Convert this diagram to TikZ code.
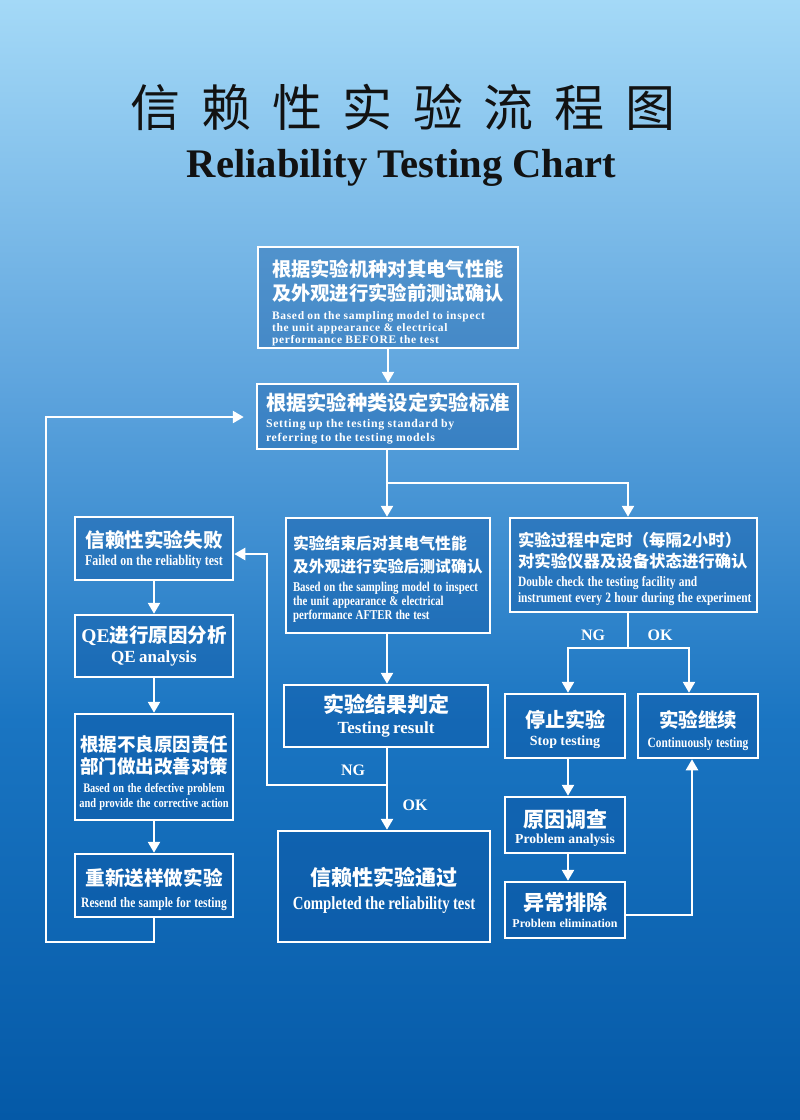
\documentclass[tikz,border=0pt]{standalone}
\usepackage{fontspec}
\usetikzlibrary{arrows.meta}
\setmainfont{Liberation Serif}
\newfontfamily\cjkbase{Noto Sans CJK SC}
\newcommand\cjk{\cjkbase\bfseries}
\newfontfamily\enr{Liberation Serif}
\newfontfamily\enw{Liberation Serif}[LetterSpace=6]
\newfontfamily\enc{Liberation Serif}[FakeStretch=0.8]
\newcommand\fs[2]{\fontsize{#1}{#2}\selectfont}
\newcommand\myline[1]{\mbox{#1}\par}
\definecolor{c0}{HTML}{A4D9F7}
\definecolor{c1}{HTML}{5FA5DE}
\definecolor{c2}{HTML}{1A75C2}
\definecolor{c3}{HTML}{0459A7}
\definecolor{boxfill}{HTML}{0A4F9C}
\definecolor{titlecol}{HTML}{121212}
\begin{document}
\begin{tikzpicture}[x=1pt,y=-1pt,
  box/.style={draw=white, line width=2.5pt, fill=boxfill, fill opacity=0.35, inner sep=0pt},
  txt/.style={text=white, inner sep=0pt, align=center},
  ltxt/.style={txt, align=left},
  conn/.style={draw=white, line width=2.5pt},
  arr/.style={conn, -{Triangle[width=12pt,length=11pt]}},
  lbl/.style={text=white, font=\enr\bfseries\fs{16}{16}, inner sep=0pt}]
\path[use as bounding box] (0,0) rectangle (800,1120);
\shade[top color=c0,bottom color=c1] (0,0) rectangle (800,381);
\shade[top color=c1,bottom color=c2] (0,380) rectangle (800,721);
\shade[top color=c2,bottom color=c3] (0,720) rectangle (800,1120);

% title
\node[text=titlecol, font=\cjkbase\fs{50}{50}, inner sep=0pt] (tzh) at (403,107)
  {信\hspace{20.6pt}赖\hspace{20.6pt}性\hspace{20.6pt}实\hspace{20.6pt}验\hspace{20.6pt}流\hspace{20.6pt}程\hspace{20.6pt}图};
\node[text=titlecol, font=\enr\bfseries\fs{40.6}{42}, inner sep=0pt, anchor=base] (ten) at (401.5,177)
  {Reliability Testing Chart};

% boxes
\node[box, minimum width=260pt, minimum height=101pt] (b1) at (388,297.5) {};
\node[box, minimum width=261pt, minimum height=65pt] (b2) at (387.5,416.5) {};
\node[box, minimum width=204pt, minimum height=115pt] (m1) at (388,575.5) {};
\node[box, minimum width=204pt, minimum height=62pt] (m2) at (386,716) {};
\node[box, minimum width=212pt, minimum height=111pt] (m3) at (384,886.5) {};
\node[box, minimum width=158pt, minimum height=63pt] (l1) at (154,548.5) {};
\node[box, minimum width=158pt, minimum height=62pt] (l2) at (154,646) {};
\node[box, minimum width=158pt, minimum height=106pt] (l3) at (154,767) {};
\node[box, minimum width=158pt, minimum height=63pt] (l4) at (154,885.5) {};
\node[box, minimum width=247pt, minimum height=94pt] (r1) at (633.5,565) {};
\node[box, minimum width=120pt, minimum height=64pt] (r2) at (565,726) {};
\node[box, minimum width=120pt, minimum height=64pt] (r3) at (698,726) {};
\node[box, minimum width=120pt, minimum height=56pt] (r4) at (565,825) {};
\node[box, minimum width=120pt, minimum height=56pt] (r5) at (565,910) {};

% box texts
\node[ltxt, text width=232pt] (b1t) at ([yshift=-5pt]b1.center)
  {{\cjk\fs{19.3}{24}\myline{根据实验机种对其电气性能}\myline{及外观进行实验前测试确认}}\vspace{8pt}%
   {\enw\bfseries\fs{11.5}{11.6}\myline{Based on the sampling model to inspect}\myline{the unit appearance \& electrical}\myline{performance BEFORE the test}}};
\node[ltxt, text width=243pt] (b2t) at ([yshift=-2pt]b2.center)
  {{\cjk\fs{20.3}{24}\myline{根据实验种类设定实验标准}}\vspace{3.5pt}%
   {\enw\bfseries\fs{11.8}{14}\myline{Setting up the testing standard by}\myline{referring to the testing models}}};
\node[ltxt, text width=190pt] (m1t) at ([yshift=-3.5pt]m1.center)
  {{\cjk\fs{15.8}{23}\myline{实验结束后对其电气性能}\myline{及外观进行实验后测试确认}}\vspace{5pt}%
   {\enc\bfseries\fs{13.5}{14}\myline{Based on the sampling model to inspect}\myline{the unit appearance \& electrical}\myline{performance AFTER the test}}};
\node[txt, text width=200pt] (m2t) at (m2.center)
  {{\cjk\fs{21}{24}\myline{实验结果判定}}\vspace{2pt}%
   {\enr\bfseries\fs{17}{19}\myline{Testing result}}};
\node[txt, text width=208pt] (m3t) at ([yshift=-3.5pt]m3.center)
  {{\cjk\fs{21}{24}\myline{信赖性实验通过}}\vspace{5pt}%
   {\enc\bfseries\fs{18.5}{19}\myline{Completed the reliability test}}};
\node[txt, text width=154pt] (l1t) at ([yshift=-1pt]l1.center)
  {{\cjk\fs{19.6}{22}\myline{信赖性实验失败}}\vspace{3.5pt}%
   {\enc\bfseries\fs{14.9}{15}\myline{Failed on the reliablity test}}};
\node[txt, text width=154pt] (l2t) at (l2.center)
  {{\cjk\fs{19.5}{22}\myline{{\enr\bfseries QE}进行原因分析}}\vspace{2pt}%
   {\enr\bfseries\fs{17}{17.5}\myline{QE analysis}}};
\node[txt, text width=154pt] (l3t) at ([yshift=-6pt]l3.center)
  {{\cjk\fs{18.5}{22}\myline{根据不良原因责任}\myline{部门做出改善对策}}\vspace{3.5pt}%
   {\enc\bfseries\fs{13}{15}\myline{Based on the defective problem}\myline{and provide the corrective action}}};
\node[txt, text width=154pt] (l4t) at ([yshift=-4pt]l4.center)
  {{\cjk\fs{19.6}{22}\myline{重新送样做实验}}\vspace{7.5pt}%
   {\enc\bfseries\fs{14.3}{15}\myline{Resend the sample for testing}}};
\node[ltxt, text width=231pt] (r1t) at ([yshift=-4pt]r1.center)
  {{\cjk\fs{16.4}{21}\myline{实验过程中定时（每隔2小时）}\myline{对实验仪器及设备状态进行确认}}\vspace{3pt}%
   {\enc\bfseries\fs{14.3}{16}\myline{Double check the testing facility and}\myline{instrument every 2 hour during the experiment}}};
\node[txt, text width=116pt] (r2t) at ([yshift=-3pt]r2.center)
  {{\cjk\fs{20}{22}\myline{停止实验}}\vspace{3pt}%
   {\enr\bfseries\fs{14}{15}\myline{Stop testing}}};
\node[txt, text width=116pt] (r3t) at ([yshift=-5pt]r3.center)
  {{\cjk\fs{19.5}{22}\myline{实验继续}}\vspace{5pt}%
   {\enc\bfseries\fs{14.2}{15}\myline{Continuously testing}}};
\node[txt, text width=116pt] (r4t) at ([yshift=-3pt]r4.center)
  {{\cjk\fs{21}{22}\myline{原因调查}}\vspace{1pt}%
   {\enr\bfseries\fs{13.7}{14.5}\myline{Problem analysis}}};
\node[txt, text width=116pt] (r5t) at (r5.center)
  {{\cjk\fs{21}{22}\myline{异常排除}}\vspace{2pt}%
   {\enr\bfseries\fs{12}{15}\myline{Problem elimination}}};

% connectors: main flow
\draw[arr] (b1.south) -- (b1.south |- b2.north);
\coordinate (split) at (387,483);
\coordinate (rin) at (628,483);
\draw[conn] (b2.south -| split) -- (split);
\draw[arr] (split) -- (split |- m1.north);
\draw[arr] (split) -- (rin) -- (rin |- r1.north);
\draw[arr] (m1.south -| split) -- (m2.north -| split);
\draw[arr] (m2.south -| split) -- (m3.north -| split);
\coordinate (ngpt) at (387,785);
\coordinate (ngc) at (267,554);
\draw[arr] (ngpt) -| (ngc) -- (l1.east |- ngc);
\node[lbl] (ngm) at (353,770) {NG};
\node[lbl] (okm) at (415,805) {OK};

% left column
\draw[arr] (l1.south) -- (l2.north);
\draw[arr] (l2.south) -- (l3.north);
\draw[arr] (l3.south) -- (l4.north);
\coordinate (lb) at (46,942);
\coordinate (lt) at (46,417);
\draw[arr, shorten >=12pt] (l4.south) |- (lb) -- (lt) -- (b2.west |- lt);

% right column
\coordinate (rs) at (628,648);
\coordinate (rng) at (568,648);
\coordinate (rok) at (689,648);
\draw[conn] (r1.south -| rs) -- (rs);
\draw[arr] (rs) -- (rng) -- (rng |- r2.north);
\draw[arr] (rs) -- (rok) -- (rok |- r3.north);
\draw[arr] (r2.south -| rng) -- (r4.north -| rng);
\draw[arr] (r4.south -| rng) -- (r5.north -| rng);
\coordinate (ret) at (692,915);
\draw[arr] (r5.east |- ret) -- (ret) -- (ret |- r3.south);
\node[lbl] (ngr) at (593,635) {NG};
\node[lbl] (okr) at (660,635) {OK};
\end{tikzpicture}
\end{document}
